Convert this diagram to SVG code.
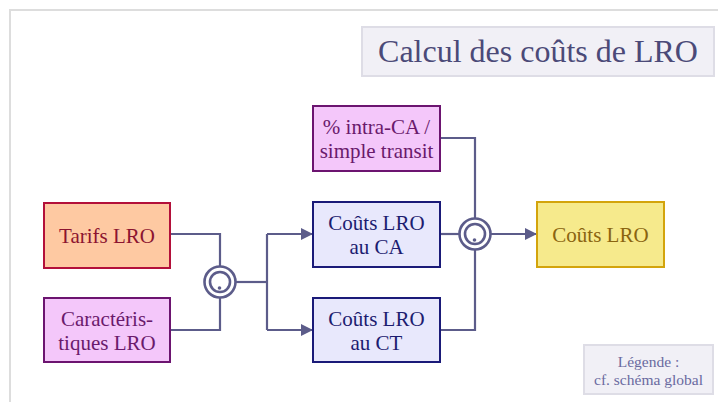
<svg xmlns="http://www.w3.org/2000/svg" width="718" height="403" viewBox="0 0 718 403">
  <defs>
    <style>
      text { font-family: 'Liberation Serif', 'Times New Roman', serif; text-anchor: middle; }
      .label { font-size: 21px; }
      .box { stroke-width: 2; }
      .panel { fill: #f1f0f6; stroke: #dedde6; stroke-width: 2; }
      .wire { fill: none; stroke: #5c5c8a; stroke-width: 2.2; }
      .ring { fill: #ffffff; stroke: #5c5c8a; stroke-width: 2.6; }
      .dot { fill: #5c5c8a; }
      .orange { fill: #fec9a2; stroke: #b3103a; }
      .pink { fill: #f4c7fa; stroke: #6c1470; }
      .blue { fill: #e8e8fc; stroke: #1a1a78; }
      .yellow { fill: #f6ea8c; stroke: #d3a40c; }
      .t-orange { fill: #8c1430; }
      .t-pink { fill: #6a1a6c; }
      .t-blue { fill: #1c1c70; }
      .t-yellow { fill: #8a6410; }
    </style>
    <marker id="arrow" markerWidth="12" markerHeight="12" refX="12" refY="6" orient="auto" markerUnits="userSpaceOnUse">
      <path d="M0,0 L12,6 L0,12 Z" fill="#5c5c8a"/>
    </marker>
    <!-- combination node: double ring with a dot -->
    <g id="junction-symbol">
      <circle class="ring" cx="0" cy="0" r="15.5"/>
      <circle class="ring" cx="0" cy="0" r="10"/>
      <circle class="dot" cx="-0.5" cy="6" r="1.8"/>
    </g>
  </defs>

  <rect width="718" height="403" fill="#ffffff"/>
  <!-- outer frame, open on the right and bottom -->
  <path d="M10,402 V10 H718" fill="none" stroke="#dddddd" stroke-width="2"/>

  <!-- title -->
  <g id="title">
    <rect class="panel" x="362" y="27" width="352" height="49"/>
    <text x="538" y="62" font-size="32" fill="#4b4a78">Calcul des coûts de LRO</text>
  </g>

  <!-- connectors -->
  <g id="connectors">
    <path class="wire" d="M170,234 H220 V266"/>
    <path class="wire" d="M170,330 H220 V298"/>
    <path class="wire" d="M236,282 H267"/>
    <path class="wire" d="M267,234 V330"/>
    <path class="wire" d="M267,234 H313" marker-end="url(#arrow)"/>
    <path class="wire" d="M267,330 H313" marker-end="url(#arrow)"/>
    <path class="wire" d="M440,138 H475 V218"/>
    <path class="wire" d="M440,234 H459"/>
    <path class="wire" d="M440,330 H475 V250"/>
    <path class="wire" d="M491,234 H537" marker-end="url(#arrow)"/>
  </g>

  <!-- combination nodes -->
  <g id="junction1"><use href="#junction-symbol" x="220" y="282"/></g>
  <g id="junction2"><use href="#junction-symbol" x="475" y="234"/></g>

  <!-- nodes -->
  <g id="tarifs">
    <rect class="box orange" x="44" y="203" width="126" height="65"/>
    <text class="label t-orange" x="107" y="243">Tarifs LRO</text>
  </g>
  <g id="caracteristiques">
    <rect class="box pink" x="44" y="298" width="126" height="64"/>
    <text class="label t-pink" x="107" y="326">Caractéris-</text>
    <text class="label t-pink" x="107" y="350">tiques LRO</text>
  </g>
  <g id="intra">
    <rect class="box pink" x="313" y="106" width="127" height="65"/>
    <text class="label t-pink" x="376.5" y="134">% intra-CA /</text>
    <text class="label t-pink" x="376.5" y="158">simple transit</text>
  </g>
  <g id="couts-ca">
    <rect class="box blue" x="313" y="202" width="127" height="65"/>
    <text class="label t-blue" x="376.5" y="230">Coûts LRO</text>
    <text class="label t-blue" x="376.5" y="254">au CA</text>
  </g>
  <g id="couts-ct">
    <rect class="box blue" x="313" y="298" width="127" height="64"/>
    <text class="label t-blue" x="376.5" y="326">Coûts LRO</text>
    <text class="label t-blue" x="376.5" y="350">au CT</text>
  </g>
  <g id="couts">
    <rect class="box yellow" x="537" y="202" width="127" height="65"/>
    <text class="label t-yellow" x="600.5" y="242">Coûts LRO</text>
  </g>

  <!-- legend -->
  <g id="legende">
    <rect class="panel" x="584" y="345" width="129" height="49"/>
    <text x="648.5" y="367" font-size="15.5" fill="#6a6aa0">Légende :</text>
    <text x="648.5" y="385" font-size="15.5" fill="#6a6aa0">cf. schéma global</text>
  </g>
</svg>
